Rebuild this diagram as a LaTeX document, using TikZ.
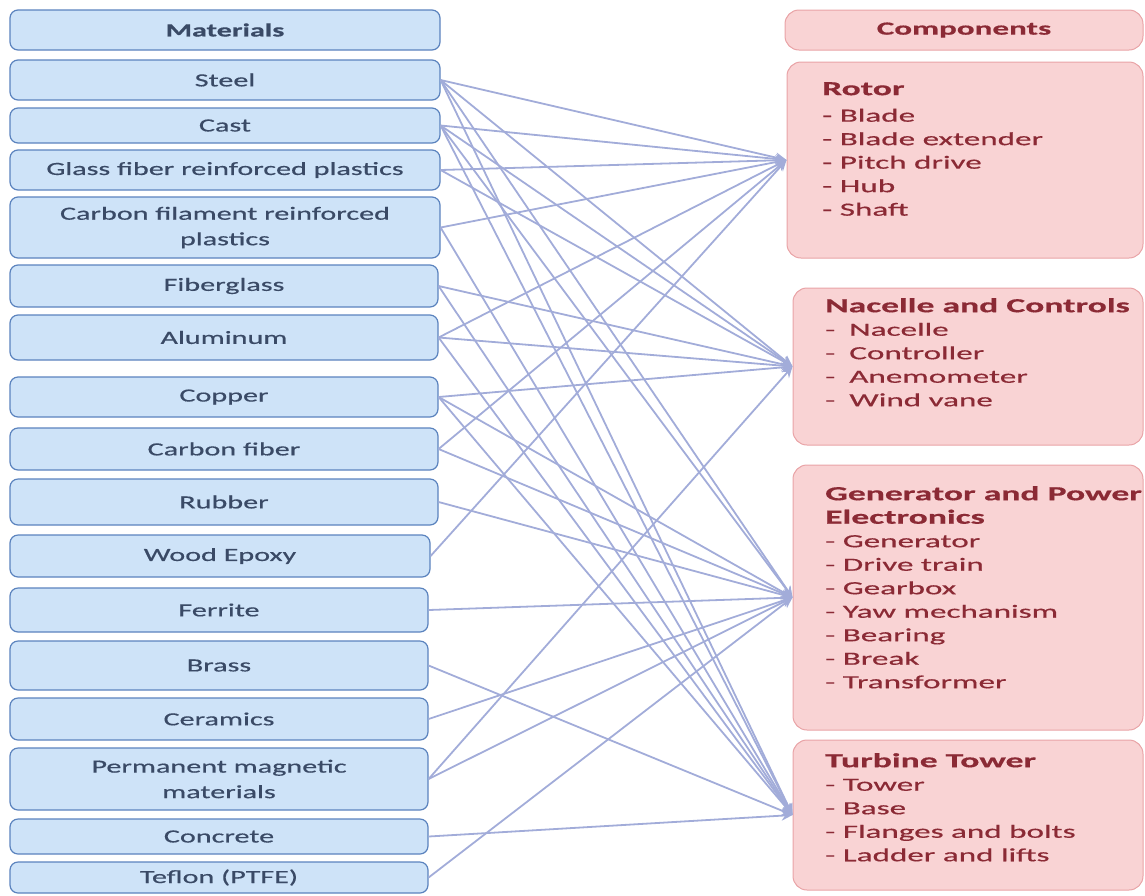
\documentclass[tikz,border=0pt]{standalone}
\usepackage{fontspec}
\setmainfont{Carlito}
\newfontfamily\lfont{Carlito}[FakeStretch=1.62,FakeBold=0.5]
\newfontfamily\rfont{Carlito}[FakeStretch=1.78,FakeBold=0.5]
\usetikzlibrary{arrows.meta}
\definecolor{matfill}{HTML}{CEE3F8}
\definecolor{matborder}{HTML}{5B83BE}
\definecolor{mattext}{HTML}{3A4A66}
\definecolor{compfill}{HTML}{F9D3D4}
\definecolor{compborder}{HTML}{E9A3A6}
\definecolor{comptext}{HTML}{8B2A35}
\definecolor{linkcol}{HTML}{A2ACD9}
\begin{document}
\begin{tikzpicture}[x=1pt,y=-1pt,
  mat/.style={draw=matborder, fill=matfill, rounded corners=8pt, line width=1.2pt,
    inner sep=0pt, align=center, text=mattext,
    font=\lfont\fontsize{18.6}{25.5}\selectfont},
  comp/.style={draw=compborder, fill=compfill, rounded corners=14pt, line width=1pt, inner sep=0pt},
  ctext/.style={anchor=north west, align=left, inner sep=0pt, text=comptext,
    font=\rfont\fontsize{18.6}{23.5}\selectfont},
  ctitle/.style={font=\rfont\fontsize{20}{23.5}\selectfont\bfseries},
  link/.style={draw=linkcol, line width=1.8pt, -{Stealth[length=11pt,width=10pt]}}]
\useasboundingbox (0,0) rectangle (1145,895);

% left column
\node[mat, minimum width=430pt, minimum height=40pt] (mathead) at (225,30) {\textbf{Materials}};
\node[mat, minimum width=430pt, minimum height=40pt] (steel) at (225,80) {Steel};
\node[mat, minimum width=430pt, minimum height=35pt] (cast) at (225,125.5) {Cast};
\node[mat, minimum width=430pt, minimum height=40pt] (gfrp) at (225,170) {Glass fiber reinforced plastics};
\node[mat, minimum width=430pt, minimum height=61pt] (cfrp) at (225,227.5) {Carbon filament reinforced\\plastics};
\node[mat, minimum width=428pt, minimum height=42pt] (fiberglass) at (224,286) {Fiberglass};
\node[mat, minimum width=428pt, minimum height=45pt] (aluminum) at (224,337.5) {Aluminum};
\node[mat, minimum width=428pt, minimum height=40pt] (copper) at (224,397) {Copper};
\node[mat, minimum width=428pt, minimum height=42pt] (carbonfiber) at (224,449) {Carbon fiber};
\node[mat, minimum width=428pt, minimum height=46pt] (rubber) at (224,502) {Rubber};
\node[mat, minimum width=420pt, minimum height=42pt] (woodepoxy) at (220,556) {Wood Epoxy};
\node[mat, minimum width=418pt, minimum height=44pt] (ferrite) at (219,610) {Ferrite};
\node[mat, minimum width=418pt, minimum height=49pt] (brass) at (219,665.5) {Brass};
\node[mat, minimum width=418pt, minimum height=42pt] (ceramics) at (219,719) {Ceramics};
\node[mat, minimum width=418pt, minimum height=62pt] (pmm) at (219,779) {Permanent magnetic\\materials};
\node[mat, minimum width=418pt, minimum height=35pt] (concrete) at (219,836.5) {Concrete};
\node[mat, minimum width=418pt, minimum height=31pt] (teflon) at (219,877.5) {Teflon (PTFE)};

% right column
\node[comp, minimum width=358pt, minimum height=40pt, text=comptext,
  font=\rfont\fontsize{18.6}{23.5}\selectfont] (comphead) at (964,30) {\textbf{Components}};
\node[comp, minimum width=356pt, minimum height=196pt] (rotor) at (965,160) {};
\node[comp, minimum width=350pt, minimum height=157pt] (nacelle) at (968,366.5) {};
\node[comp, minimum width=350pt, minimum height=265pt] (generator) at (968,597.5) {};
\node[comp, minimum width=350pt, minimum height=150pt] (tower) at (968,815) {};

\node[ctext] (rotortxt) at (822,82) {{\rfont\fontsize{20}{23.5}\selectfont\bfseries Rotor}\\[3pt]
  - Blade\\- Blade extender\\- Pitch drive\\- Hub\\- Shaft};
\node[ctext] (nacelletxt) at (825,298) {{\rfont\fontsize{20}{23.5}\selectfont\bfseries Nacelle and Controls}\\
  -\hspace{14pt}Nacelle\\-\hspace{14pt}Controller\\-\hspace{14pt}Anemometer\\-\hspace{14pt}Wind vane};
\node[ctext] (generatortxt) at (825,486) {{\rfont\fontsize{20}{23.5}\selectfont\bfseries Generator and Power}\\
  {\rfont\fontsize{20}{23.5}\selectfont\bfseries Electronics}\\
  - Generator\\- Drive train\\- Gearbox\\- Yaw mechanism\\- Bearing\\- Break\\- Transformer};
\node[ctext] (towertxt) at (825,753) {{\rfont\fontsize{20}{23.5}\selectfont\bfseries Turbine Tower}\\
  - Tower\\- Base\\- Flanges and bolts\\- Ladder and lifts};

% connections
\foreach \m in {steel,cast,gfrp,cfrp,aluminum,carbonfiber,woodepoxy}
  \draw[link] (\m.east) -- (rotor.west);
\foreach \m in {steel,cast,gfrp,fiberglass,aluminum,copper,pmm}
  \draw[link] (\m.east) -- (nacelle.west);
\foreach \m in {steel,cast,copper,carbonfiber,rubber,ferrite,ceramics,pmm,teflon}
  \draw[link] (\m.east) -- (generator.west);
\foreach \m in {steel,cast,cfrp,fiberglass,aluminum,copper,brass,concrete}
  \draw[link] (\m.east) -- (tower.west);
\end{tikzpicture}
\end{document}
